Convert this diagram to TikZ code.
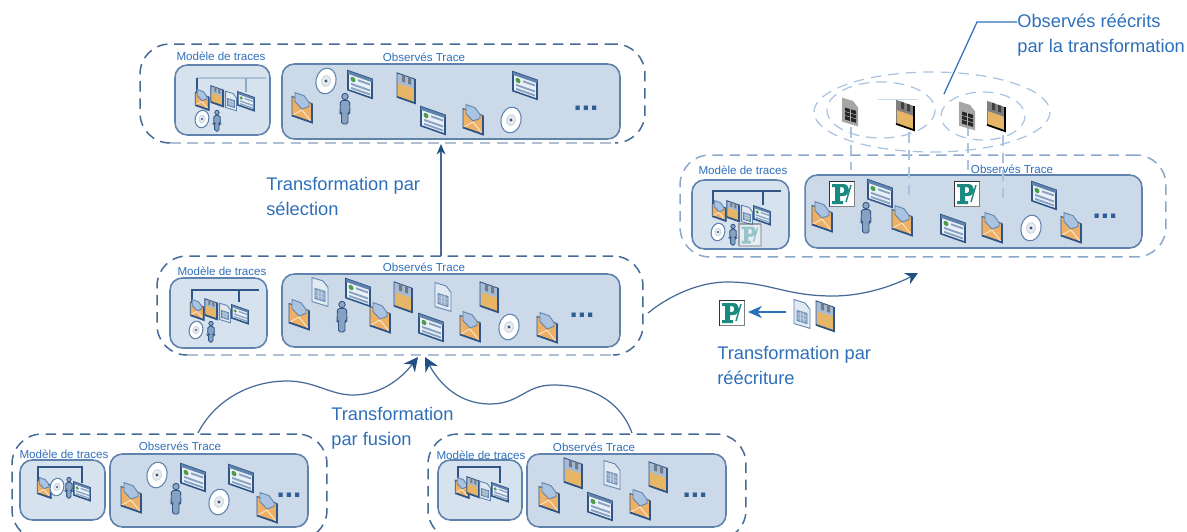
\documentclass[tikz,border=0pt]{standalone}
\usepackage{fontspec}
\setmainfont{Liberation Sans}
\usetikzlibrary{arrows.meta}
\definecolor{txtblue}{HTML}{2E6FBA}
\definecolor{linedark}{HTML}{466A97}
\definecolor{linepale}{HTML}{A9C3E0}
\definecolor{linegrey}{HTML}{AFC0D5}
\definecolor{boxfill}{HTML}{CBD9E8}
\definecolor{modfill}{HTML}{D7E2EF}
\definecolor{boxline}{HTML}{5F83AD}
\definecolor{icoline}{HTML}{2F5587}
\definecolor{tipblue}{HTML}{1F4F85}
\definecolor{icoorange}{HTML}{EDB064}
\definecolor{icoyellow}{HTML}{E6B565}
\definecolor{icoteal}{HTML}{1A8A80}
\tikzset{
  envelope/.pic={
    \begin{scope}[yslant=-0.35,draw=icoline,line width=0.5pt]
      \draw[fill=icoorange] (-10,-8) rectangle (10,11);
      \draw[fill=linepale,draw=boxline] (-7,-13) -- (2,-13) -- (7,-8) -- (7,-4) -- (0,1) -- (-7,-4) -- cycle;
      \draw[draw=white!70!icoorange] (-10,11) -- (0,2) -- (10,11);
      \draw[line width=1pt] (10,-8) -- (10,11) -- (-10,11);
    \end{scope}
  },
  floppy/.pic={
    \begin{scope}[yslant=-0.35,draw=icoline,line width=0.5pt]
      \draw[fill=boxline!55] (-9,-12) rectangle (9,12);
      \fill[boxline!50!black!70] (-4,-12) rectangle (-1,-5) (2,-12) rectangle (5,-5);
      \fill[icoyellow] (-8,-2) rectangle (8,12);
      \draw[line width=1pt] (9,-12) -- (9,12) -- (-9,12);
    \end{scope}
  },
  grayfloppy/.pic={
    \begin{scope}[yslant=-0.35,line width=0.5pt]
      \fill[black!50] (-9,-12) rectangle (9,12);
      \fill[black!75] (-4,-12) rectangle (-1,-5) (2,-12) rectangle (5,-5);
      \fill[icoyellow] (-8,-2) rectangle (8,12);
      \draw[black,line width=1pt] (9,-12) -- (9,12) -- (-9,12);
    \end{scope}
  },
  docu/.pic={
    \begin{scope}[yslant=-0.3,line width=0.5pt]
      \draw[boxline,fill=modfill!75!white] (-8,-12) -- (3,-12) -- (8,-7) -- (8,12) -- (-8,12) -- cycle;
      \draw[boxline,fill=boxline!65] (-5,-2) rectangle (5,8);
      \draw[white!60!boxline,line width=0.3pt] (-5,1) -- (5,1) (-5,4.5) -- (5,4.5) (-1.5,-2) -- (-1.5,8) (1.5,-2) -- (1.5,8);
    \end{scope}
  },
  graydocu/.pic={
    \begin{scope}[yslant=-0.3,line width=0.5pt]
      \fill[black!35] (-8,-12) -- (3,-12) -- (8,-7) -- (8,12) -- (-8,12) -- cycle;
      \fill[black!85] (-5,-3) rectangle (6,9);
      \draw[white!70!black,line width=0.3pt] (-5,1) -- (6,1) (-5,5) -- (6,5) (0.5,-3) -- (0.5,9);
    \end{scope}
  },
  screen/.pic={
    \begin{scope}[yslant=-0.35,line width=0.5pt]
      \draw[icoline,fill=modfill!50!white,line width=0.9pt] (-12,-9) rectangle (12,10);
      \fill[boxline] (-12,-9) rectangle (12,-6);
      \fill[green!45!black!70] (-7,-2) circle [radius=2.5];
      \fill[boxline!75] (-2,-4) rectangle (10,-2) (-9,2) rectangle (10,4) (-9,6) rectangle (10,8);
    \end{scope}
  },
  cdisc/.pic={
    \begin{scope}[rotate=-12,line width=0.6pt]
      \draw[boxline,fill=white] (0,0) ellipse [x radius=10,y radius=13];
      \draw[boxfill,fill=black!8] (0,0) ellipse [x radius=4.5,y radius=5.5];
      \fill[icoline] (0,0) circle [radius=1.6];
    \end{scope}
  },
  person/.pic={
    \draw[icoline,fill=boxline!70,line width=0.5pt] (0,-12.5) circle [radius=3.2];
    \draw[icoline,fill=boxline!75,line width=0.5pt,rounded corners=1] (-4.5,-8.5) -- (4.5,-8.5) -- (5,4) -- (3,4) -- (3,15) -- (-3.5,15) -- (-3.5,4) -- (-5,4) -- cycle;
  },
  pubico/.pic={
    \fill[white] (-12.5,-12.5) rectangle (12.5,12.5);
    \draw[black!80,line width=1.1pt] (12.5,-12.5) -- (-12.5,-12.5) -- (-12.5,12.5);
    \draw[black!50,line width=1.1pt] (12.5,-12.5) -- (12.5,12.5) -- (-12.5,12.5);
    \fill[icoteal,even odd rule] (-10,-10) -- (1,-10) .. controls (9,-10) and (9,2) .. (1,2) -- (-2,2) -- (-2,7) -- (1,7) -- (1,10) -- (-10,10) -- (-10,7) -- (-7,7) -- (-7,-7) -- (-10,-7) -- cycle
      (-2,-7) -- (-2,-1) -- (0,-1) .. controls (3,-1) and (3,-7) .. (0,-7) -- cycle;
    \draw[icoteal,line width=0.8pt] (9,-9) -- (4,8);
  }
}
\begin{document}
\begin{tikzpicture}[x=0.02cm,y=-0.02cm]
	\tikzstyle{grp}=[draw=linedark,line width=0.85pt,dash pattern=on 6pt off 3.8pt,rounded corners=17pt]
	\tikzstyle{grpl}=[grp,draw=linepale!70!linedark]
	\tikzstyle{model}=[draw=boxline,fill=modfill,line width=0.9pt,rounded corners=7pt]
	\tikzstyle{obs}=[draw=boxline,fill=boxfill,line width=0.9pt,rounded corners=7pt]
	\tikzstyle{lab}=[text=txtblue,font=\fontsize{6.6}{8}\selectfont,inner sep=0pt]
	\tikzstyle{big}=[text=txtblue,font=\fontsize{10.4}{14.2}\selectfont,align=left,anchor=west,inner sep=0pt]
	\tikzstyle{dotsn}=[text=icoline!70!txtblue,font=\fontsize{17}{17}\selectfont\bfseries,anchor=base,inner sep=0pt]
	\tikzstyle{flow}=[draw=linedark,line width=0.7pt]
	\tikzstyle{arr}=[flow,-{Stealth[length=8pt,width=8pt,color=tipblue]}]
	\tikzstyle{tree}=[draw=icoline,line width=0.7pt]
	\tikzstyle{halo}=[draw=linepale,line width=0.7pt,dash pattern=on 6pt off 4pt]

	\useasboundingbox (0,0) rectangle (1187,531);

	% groups
	\node [grp,minimum width=10.1cm,minimum height=1.98cm] (gA) at (392.5,93.5) {};
	\node [grp,minimum width=9.72cm,minimum height=1.98cm] (gB) at (400,305.5) {};
	\node [grp,minimum width=6.3cm,minimum height=2.12cm] (gC) at (169.5,487) {};
	\node [grp,minimum width=6.36cm,minimum height=2.12cm] (gD) at (587,487) {};
	\node [grpl,minimum width=9.72cm,minimum height=2.04cm] (gE) at (923,206) {};

	% paler bottom edges
	\foreach \a/\b/\y in {170/615/143,187/613/355}{
		\draw[white,line width=1.5pt] (\a,\y) -- (\b,\y);
		\draw[linegrey,line width=1.2pt,dash pattern=on 6pt off 3.8pt] (\a,\y) -- (\b,\y);
	}

	\node [model,minimum width=1.9cm,minimum height=1.4cm] (mA) at (222.5,100) {};
	\node [obs,minimum width=6.76cm,minimum height=1.5cm] (oA) at (451,101.5) {};
	\node [model,minimum width=1.94cm,minimum height=1.4cm] (mB) at (218.5,313) {};
	\node [obs,minimum width=6.76cm,minimum height=1.46cm] (oB) at (451,310.5) {};
	\node [model,minimum width=1.7cm,minimum height=1.2cm] (mC) at (62.5,490) {};
	\node [obs,minimum width=3.96cm,minimum height=1.46cm] (oC) at (209,490.5) {};
	\node [model,minimum width=1.68cm,minimum height=1.2cm] (mD) at (480,490) {};
	\node [obs,minimum width=3.98cm,minimum height=1.46cm] (oD) at (626.5,490.5) {};
	\node [model,minimum width=1.94cm,minimum height=1.38cm] (mE) at (740.5,214.5) {};
	\node [obs,minimum width=6.74cm,minimum height=1.46cm] (oE) at (973.5,211.5) {};

	% labels
	\node [lab] (lmA) at (221,56) {Modèle de traces};
	\node [lab] (loA) at (424,57) {Observés Trace};
	\node [lab] (lmB) at (222,271) {Modèle de traces};
	\node [lab] (loB) at (424,267) {Observés Trace};
	\node [lab] (lmC) at (64,454) {Modèle de traces};
	\node [lab] (loC) at (180,446) {Observés Trace};
	\node [lab] (lmD) at (481,455) {Modèle de traces};
	\node [lab] (loD) at (594,447) {Observés Trace};
	\node [lab] (lmE) at (743,170) {Modèle de traces};
	\node [lab] (loE) at (1012,169) {Observés Trace};

	\node [big] (tS) at (266,196) {Transformation par\\sélection};
	\node [big] (tF) at (331,428) {Transformation\\par fusion};
	\node [big] (tR) at (717,365) {Transformation par\\réécriture};
	\node [big] (tO) at (1017,35) {Observés réécrits\\par la transformation};

	% connectors
	\coordinate (sA) at (441,144);
	\coordinate (sB) at (441,256);
	\coordinate (fB) at (418,357);
	\coordinate (gB2) at (425,357);
	\coordinate (fC) at (198,433);
	\coordinate (fD) at (632,433);
	\coordinate (rB) at (648,313);
	\coordinate (rE) at (918,273);
	\coordinate (pA) at (786,312);
	\coordinate (pB) at (748,312);
	\coordinate (oT) at (1017,22);
	\coordinate (oM) at (977,22);
	\coordinate (oE2) at (944,94);

	\path[arr,-{Stealth[length=6pt,width=5pt,color=tipblue]}] (sB) -- (sA);
	\path[arr] (fC) .. controls (215,400) and (250,381) .. (287,381) .. controls (315,381) and (330,395) .. (353,395) .. controls (380,395) and (400,380) .. (fB);
	\path[arr] (fD) .. controls (620,400) and (590,385) .. (553,385) .. controls (525,385) and (520,404) .. (490,404) .. controls (460,404) and (440,385) .. (gB2);
	\path[arr,-{Stealth[length=7pt,width=7pt,color=tipblue]}] (rB) .. controls (670,295) and (700,282) .. (727,282) .. controls (770,282) and (785,296) .. (833,296) .. controls (865,296) and (895,285) .. (rE);
	\path[arr,draw=txtblue,-{Stealth[length=8pt,width=7pt,color=txtblue]}] (pA) -- (pB);
	\path[flow,draw=txtblue] (oT) -- (oM) -- (oE2);

	% halos and dropped lines
	\draw[halo] (932,112) ellipse [x radius=118,y radius=40];
	\draw[halo] (881,110) ellipse [x radius=54,y radius=28];
	\draw[halo] (983,116) ellipse [x radius=42,y radius=24];
	\draw[linepale!60,line width=0.5pt] (878,99) -- (918,99);
	\foreach \x/\a/\b in {851/127/170,909/132/200,968/125/170,1003/135/202}
		\draw[halo] (\x,\a) -- (\x,\b);

	% model trees
	\draw[tree,draw=boxline!50] (197,78) -- (266,78);
	\draw[tree] (197,78) -- (197,92);
	\draw[tree,draw=boxline!70] (246,78) -- (246,92);
	\draw[tree] (192,302) -- (192,290) -- (259,290) (239,290) -- (239,302);
	\draw[tree] (38,483) -- (38,467) -- (82,467) -- (82,483);
	\draw[tree] (458,483) -- (458,467) -- (500,467) -- (500,483);
	\draw[tree] (713,205) -- (713,191) -- (781,191) (763,191) -- (763,205);

	% icons
	\foreach \x/\y in {302/108,473/120,299/315,380/318,470/327,547/328,131/498,267/508,549/498,640/505,822/217,902/221,992/228,1071/228}
		\pic at (\x,\y) {envelope};
	\foreach \x/\y in {326/81,511/120,509/327,157/475,219/502,1031/228}
		\pic at (\x,\y) {cdisc};
	\foreach \x/\y in {360/84,433/120,525/85,358/292,431/327,193/477,241/478,600/506,880/193,953/228,1044/195}
		\pic at (\x,\y) {screen};
	\foreach \x/\y in {345/109,342/317,176/499,866/218}
		\pic at (\x,\y) {person};
	\foreach \x/\y in {406/88,403/297,489/297,573/473,658/477,825/316}
		\pic at (\x,\y) {floppy};
	\foreach \x/\y in {320/292,443/297,612/475,802/314}
		\pic at (\x,\y) {docu};
	\foreach \x/\y in {842/194,967/194,732/313}
		\pic at (\x,\y) {pubico};
	\pic at (850,112) {graydocu};
	\pic at (905,115) {grayfloppy};
	\pic at (967,116) {graydocu};
	\pic at (996,116) {grayfloppy};

	% small icons of the models
	\foreach \x/\y in {202/100,197/310,44/488,462/488,719/211}
		\pic[scale=0.68] at (\x,\y) {envelope};
	\foreach \x/\y in {217/96,211/309,473/487,733/211}
		\pic[scale=0.68] at (\x,\y) {floppy};
	\foreach \x/\y in {231/101,225/313,485/491,747/215}
		\pic[scale=0.68] at (\x,\y) {docu};
	\foreach \x/\y in {246/101,240/314,82/491,500/492,762/215}
		\pic[scale=0.68] at (\x,\y) {screen};
	\foreach \x/\y in {202/119,196/330,57/487,718/232}
		\pic[scale=0.68] at (\x,\y) {cdisc};
	\foreach \x/\y in {217/121,211/332,69/488,733/235}
		\pic[scale=0.68] at (\x,\y) {person};
	\pic[scale=0.85,opacity=0.4] at (750,235) {pubico};

	% dots
	\node [dotsn] (dA) at (586,110) {...};
	\node [dotsn] (dB) at (582,317) {...};
	\node [dotsn] (dC) at (289,497) {...};
	\node [dotsn] (dD) at (695,497) {...};
	\node [dotsn] (dE) at (1105,218) {...};

\end{tikzpicture}
\end{document}
